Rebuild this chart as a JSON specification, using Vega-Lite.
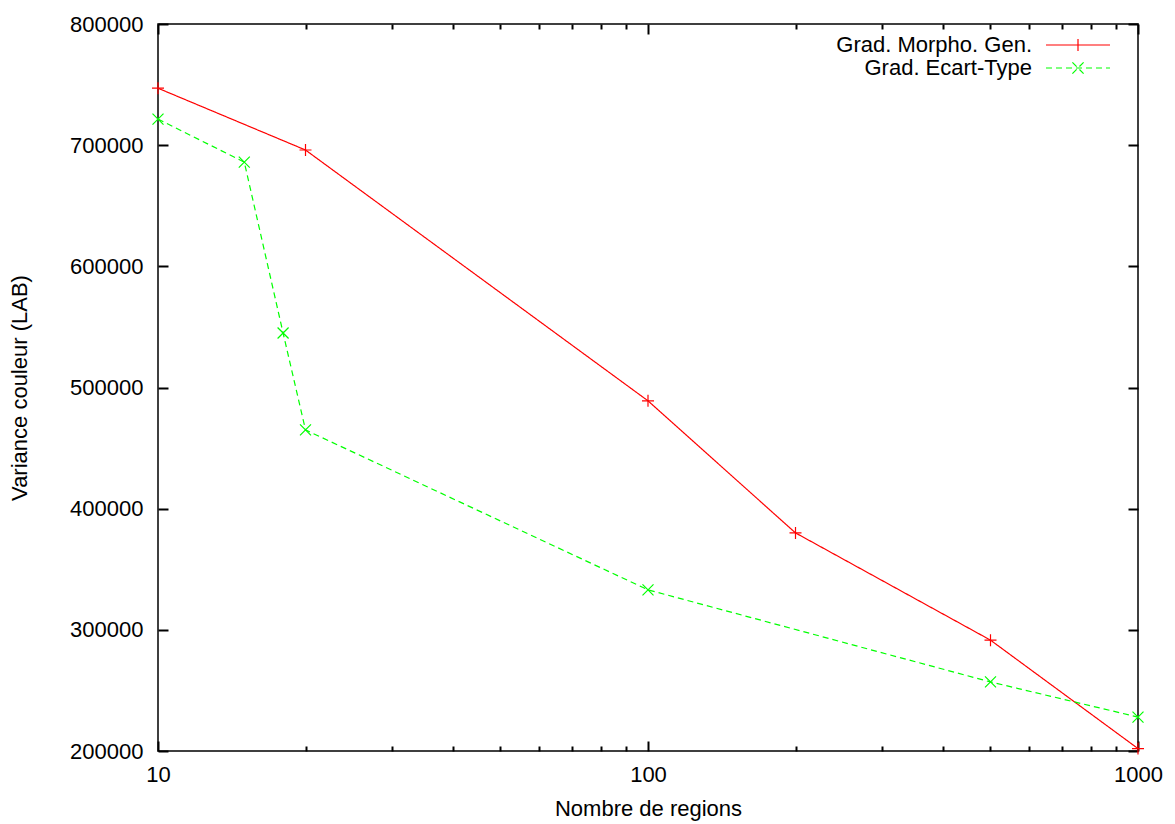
{
  "$schema": "https://vega.github.io/schema/vega-lite/v6.json",
  "width": 980,
  "height": 727,
  "autosize": {"type": "none"},
  "padding": {"left": 158, "top": 24, "right": 37, "bottom": 73},
  "background": "white",
  "config": {
    "font": "Liberation Sans",
    "view": {"stroke": "black", "strokeWidth": 1.5},
    "axis": {"labelFont": "Liberation Sans", "titleFont": "Liberation Sans", "labelFontSize": 22, "titleFontSize": 22, "titleFontWeight": "normal", "labelColor": "black", "titleColor": "black", "domain": false, "grid": false, "tickColor": "black", "tickWidth": 2, "zindex": 2},
    "legend": {"labelFont": "Liberation Sans", "labelFontSize": 22, "labelColor": "black", "labelLimit": 0}
  },
  "data": {"values": [
    {"n": 10, "v": 747000, "series": "Grad. Morpho. Gen."},
    {"n": 20, "v": 696000, "series": "Grad. Morpho. Gen."},
    {"n": 100, "v": 489000, "series": "Grad. Morpho. Gen."},
    {"n": 200, "v": 380000, "series": "Grad. Morpho. Gen."},
    {"n": 500, "v": 291500, "series": "Grad. Morpho. Gen."},
    {"n": 1000, "v": 202000, "series": "Grad. Morpho. Gen."},
    {"n": 10, "v": 721500, "series": "Grad. Ecart-Type"},
    {"n": 15, "v": 686000, "series": "Grad. Ecart-Type"},
    {"n": 18, "v": 545000, "series": "Grad. Ecart-Type"},
    {"n": 20, "v": 465000, "series": "Grad. Ecart-Type"},
    {"n": 100, "v": 333000, "series": "Grad. Ecart-Type"},
    {"n": 500, "v": 257000, "series": "Grad. Ecart-Type"},
    {"n": 1000, "v": 228000, "series": "Grad. Ecart-Type"}
  ]},
  "layer": [
    {
      "mark": {"type": "line", "strokeWidth": 1.2, "clip": true},
      "encoding": {
        "x": {"field": "n", "type": "quantitative", "scale": {"type": "log", "domain": [10, 1000], "nice": false},
          "axis": {"title": "Nombre de regions", "titlePadding": 13, "values": [10, 100, 1000], "format": "d", "ticks": false, "labelPadding": 13, "labelFlush": false}},
        "y": {"field": "v", "type": "quantitative", "scale": {"domain": [200000, 800000], "nice": false, "zero": false},
          "axis": {"title": "Variance couleur (LAB)", "titlePadding": 38, "values": [200000,300000,400000,500000,600000,700000,800000], "format": "d", "ticks": false, "labelPadding": 15, "labelFlush": false}},
        "color": {"field": "series", "type": "nominal", "sort": ["Grad. Morpho. Gen.", "Grad. Ecart-Type"],
          "scale": {"domain": ["Grad. Morpho. Gen.", "Grad. Ecart-Type"], "range": ["#ff0000", "#00ff00"]},
          "legend": {"title": null, "orient": "none", "legendX": 909, "legendY": 10, "labelAlign": "right", "labelOffset": -57, "symbolSize": 256, "symbolStrokeWidth": 1.2, "rowPadding": 1, "padding": 0,
            "encode": {"symbols": {"update": {
              "shape": {"signal": "datum.value == 'Grad. Morpho. Gen.' ? 'M-4,0L4,0M0,-0.75L0,0.75' : 'M-4,0L4,0M-0.7,-0.7L0.7,0.7M-0.7,0.7L0.7,-0.7'"},
              "strokeDash": {"signal": "datum.value == 'Grad. Morpho. Gen.' ? [1,0] : [6,4]"},
              "fill": {"value": "transparent"}
            }}}}},
        "strokeDash": {"field": "series", "type": "nominal", "scale": {"domain": ["Grad. Morpho. Gen.", "Grad. Ecart-Type"], "range": [[1, 0], [6, 4]]}, "legend": null}
      }
    },
    {
      "transform": [{"filter": "datum.series == 'Grad. Morpho. Gen.'"}],
      "mark": {"type": "point", "filled": false, "strokeWidth": 1.2, "size": 144, "opacity": 1, "shape": "M-1,0L1,0M0,-1L0,1", "color": "#ff0000"},
      "encoding": {
        "x": {"field": "n", "type": "quantitative", "axis": {"orient": "top", "title": null, "labels": false, "values": [10, 100, 1000], "tickSize": 10, "offset": -10}},
        "y": {"field": "v", "type": "quantitative", "axis": {"orient": "right", "title": null, "labels": false, "values": [200000,300000,400000,500000,600000,700000,800000], "tickSize": 10, "offset": -10}}
      }
    },
    {
      "transform": [{"filter": "datum.series == 'Grad. Ecart-Type'"}],
      "mark": {"type": "point", "filled": false, "strokeWidth": 1.2, "size": 121, "opacity": 1, "shape": "M-1,-1L1,1M-1,1L1,-1", "color": "#00ff00"},
      "encoding": {
        "x": {"field": "n", "type": "quantitative", "axis": {"orient": "bottom", "title": null, "labels": false, "values": [10, 100, 1000], "tickSize": 10, "offset": -10}},
        "y": {"field": "v", "type": "quantitative", "axis": {"orient": "left", "title": null, "labels": false, "values": [200000,300000,400000,500000,600000,700000,800000], "tickSize": 10, "offset": -10}}
      }
    },
    {
      "mark": {"type": "point", "opacity": 0},
      "encoding": {
        "x": {"field": "n", "type": "quantitative", "axis": {"orient": "bottom", "title": null, "labels": false, "values": [20,30,40,50,60,70,80,90,200,300,400,500,600,700,800,900], "tickSize": 5, "offset": -5}},
        "y": {"field": "v", "type": "quantitative", "axis": null}
      }
    },
    {
      "mark": {"type": "point", "opacity": 0},
      "encoding": {
        "x": {"field": "n", "type": "quantitative", "axis": {"orient": "top", "title": null, "labels": false, "values": [20,30,40,50,60,70,80,90,200,300,400,500,600,700,800,900], "tickSize": 5, "offset": -5}},
        "y": {"field": "v", "type": "quantitative", "axis": null}
      }
    }
  ],
  "resolve": {"axis": {"x": "independent", "y": "independent"}}
}
